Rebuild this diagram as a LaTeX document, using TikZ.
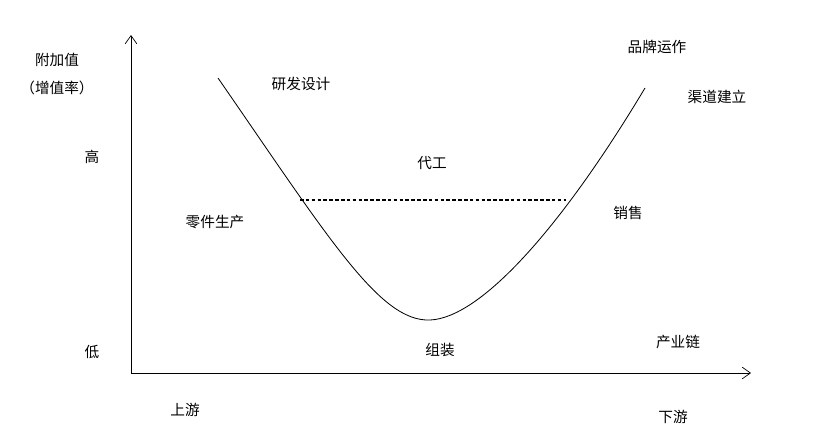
\documentclass[tikz,border=0pt]{standalone}
\usepackage{fontspec}
\setmainfont{Noto Sans CJK SC}
\usetikzlibrary{arrows.meta}
\begin{document}
\begin{tikzpicture}[x=0.03cm,y=-0.03cm,
  lbl/.style={inner sep=0pt,font=\fontsize{12.5}{15}\selectfont},
  axis/.style={line width=0.6pt,-{Straight Barb[length=7pt,width=10pt]}}]
\useasboundingbox (0,0) rectangle (831,441);
\coordinate (o) at (131,373);
\coordinate (ytop) at (131,35);
\coordinate (xend) at (751,373);
\draw[axis] (o) -- (ytop);
\draw[axis] (o) -- (xend);
\draw[line width=0.7pt] (218,78) .. controls (330,240) and (380,322) .. (430,320) .. controls (480,318) and (560,230) .. (645,88);
\coordinate (dl) at (300,200);
\coordinate (dr) at (566,200);
\draw[line width=1.2pt,dash pattern=on 3pt off 2pt] (dl) -- (dr);
\node[lbl] (a) at (57,60) {附加值};
\node[lbl] (b) at (57,88) {（增值率）};
\node[lbl] (h) at (92,157) {高};
\node[lbl] (l) at (92,352) {低};
\node[lbl] (yf) at (301,84) {研发设计};
\node[lbl] (pp) at (657,47) {品牌运作};
\node[lbl] (qd) at (717,97) {渠道建立};
\node[lbl] (dg) at (432,163) {代工};
\node[lbl] (lj) at (215,222) {零件生产};
\node[lbl] (xs) at (628,213) {销售};
\node[lbl] (zz) at (440,350) {组装};
\node[lbl] (cy) at (678,342) {产业链};
\node[lbl] (sy) at (185,410) {上游};
\node[lbl] (xy) at (673,417) {下游};
\end{tikzpicture}
\end{document}
